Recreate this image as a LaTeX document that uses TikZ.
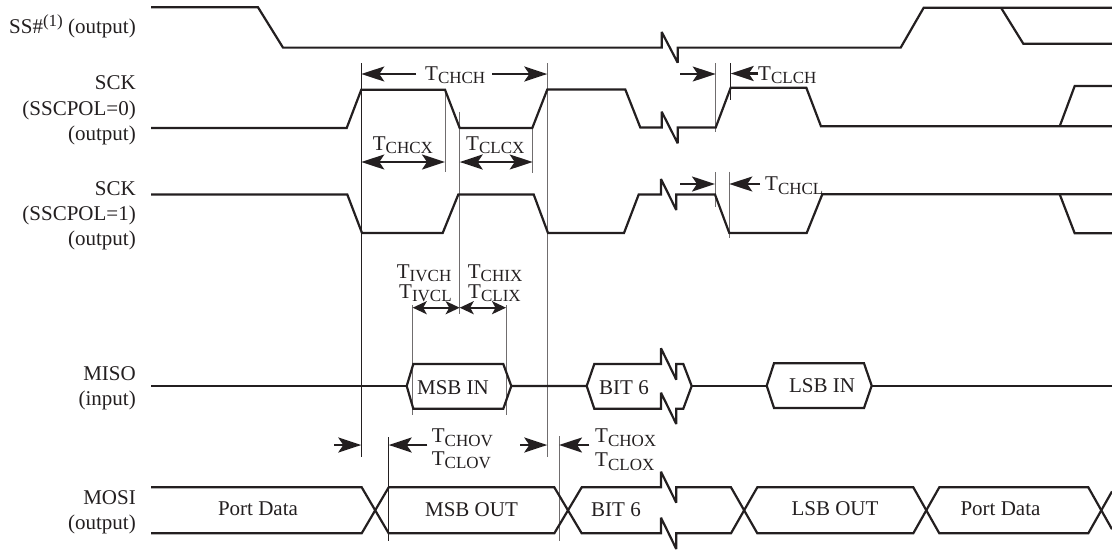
\documentclass[tikz,border=0pt]{standalone}
\usepackage{fontspec}
\setmainfont{Liberation Serif}
\usetikzlibrary{arrows.meta}
\definecolor{ink}{HTML}{231F20}
\newcommand{\Tt}[1]{T\raisebox{-3.5pt}{\fontsize{17}{17}\selectfont #1}}
\tikzset{
  sig/.style={draw=ink,line width=2.2pt,line join=miter,miter limit=3},
  guide/.style={draw=ink!65,line width=1pt},
  guidedark/.style={draw=ink,line width=0.8pt},
  big/.style={draw=ink,line width=2.2pt,-{Stealth[length=23pt,width=15pt,inset=5pt]}},
  bigboth/.style={draw=ink,line width=2.2pt,{Stealth[length=23pt,width=15pt,inset=5pt]}-{Stealth[length=23pt,width=15pt,inset=5pt]}},
  small/.style={draw=ink,line width=2.2pt,{Stealth[length=14pt,width=13pt,inset=3.5pt]}-{Stealth[length=14pt,width=13pt,inset=3.5pt]}},
  txt/.style={inner sep=0pt,text=ink,font=\fontsize{21}{21}\selectfont},
  lbl/.style={txt,anchor=base east},
  tw/.style={txt,anchor=base west},
  tc/.style={txt,anchor=base}
}
\begin{document}
\begin{tikzpicture}[x=1pt,y=-1pt]
\useasboundingbox (0,0) rectangle (1112,550);

% guide lines
\draw[guidedark] (361.3,63) -- (361.3,457.3);
\draw[guide] (547.3,63) -- (547.3,457.3);
\draw[guide] (445,90) -- (445,171.7);
\draw[guide] (459.7,111.7) -- (459.7,314);
\draw[guide] (532.3,128) -- (532.3,173.3);
\draw[guide] (715.7,63) -- (715.7,131.7);
\draw[guidedark] (730.7,63) -- (730.7,100);
\draw[guide] (715,172) -- (715,206.7);
\draw[guide] (729.3,171.7) -- (729.3,238.3);
\draw[guide] (412.7,305) -- (412.7,415);
\draw[guide] (506,305) -- (506,415);
\draw[guidedark] (388.7,437.3) -- (388.7,540.7);
\draw[guide] (559,436) -- (559,540.7);

% SS#
\draw[sig] (151,7.3) -- (258,7.3) -- (283,47.6) -- (661.7,47.6) -- (661.7,32) -- (677.7,62.7) -- (677.7,47.6) -- (900.7,47.6) -- (923.7,7.7) -- (1112,7.7);
\draw[sig] (1001,7.7) -- (1023.3,43.7) -- (1112,43.7);

% SCK polarity 0
\draw[sig] (151,128) -- (346.7,128) -- (361.3,89.7) -- (445,89.7) -- (459.7,128) -- (532.3,128) -- (547.3,89.5) -- (625.3,89.5) -- (640.3,127.5) -- (661.7,127.5) -- (661.7,111.7) -- (677.7,143.3) -- (677.7,127.5) -- (715.7,127.5) -- (730.7,87.7) -- (806.3,87.7) -- (821,126.3) -- (1112,126.3);
\draw[sig] (1059.7,126.3) -- (1074.7,86) -- (1112,86);

% SCK polarity 1
\draw[sig] (151,194.5) -- (347.3,194.5) -- (362,233) -- (442.7,233) -- (458.3,194.5) -- (533.7,194.5) -- (548,233) -- (624,233) -- (638.7,194.5) -- (661,194.5) -- (661,179) -- (676.3,210) -- (676.3,194.5) -- (715,194.5) -- (729.3,233) -- (806.7,233) -- (822.3,194.3) -- (1112,194.3);
\draw[sig] (1059.7,194.3) -- (1074.7,233.3) -- (1112,233.3);

% MISO
\draw[sig] (151,386) -- (406.7,386);
\draw[sig] (406.7,386) -- (413.3,364) -- (503.3,364) -- (511.3,386) -- (503.3,408.7) -- (413.3,408.7) -- cycle;
\draw[sig] (511.3,386) -- (586.7,386) -- (594.3,364) -- (661,364) -- (661,348.3) -- (676.3,379.7) -- (676.3,364) -- (683.3,364) -- (691.7,386) -- (683.3,408.7) -- (676.3,408.7) -- (676.3,424) -- (661,392.7) -- (661,408.7) -- (594.3,408.7) -- (586.7,386);
\draw[sig] (691.7,386) -- (766.7,386);
\draw[sig] (766.7,385.7) -- (774,363.3) -- (864,363.3) -- (871.7,385.7) -- (864,408) -- (774,408) -- cycle;
\draw[sig] (871.7,386) -- (1112,386);

% MOSI
\draw[sig] (151,487.3) -- (361.7,487.3) -- (388.7,533.3) -- (554.3,533.3) -- (581.7,487.3) -- (661,487.3) -- (661,471.7) -- (676.3,502.7) -- (676.3,487.3) -- (731,487.3) -- (757.3,533.3) -- (913.3,533.3) -- (939.3,487.3) -- (1088.3,487.3) -- (1112,529.2);
\draw[sig] (151,533.3) -- (361.7,533.3) -- (388.7,487.3) -- (554.3,487.3) -- (581.7,533.3) -- (661,533.3) -- (661,517.7) -- (676.3,549) -- (676.3,533.3) -- (731,533.3) -- (757.3,487.3) -- (913.3,487.3) -- (939.3,533.3) -- (1088.3,533.3) -- (1112,491.4);

% timing arrows
\draw[big] (416,74) -- (361.3,74);
\draw[big] (492.3,74) -- (547.3,74);
\draw[bigboth] (361.3,162) -- (445,162);
\draw[bigboth] (459.7,162) -- (532.7,162);
\draw[big] (680,74) -- (715.7,74);
\draw[big] (758.3,73.5) -- (730.7,73.5);
\draw[big] (680,184) -- (715,184);
\draw[big] (760,184) -- (729.3,184);
\draw[small] (412.7,307.7) -- (459.7,307.7);
\draw[small] (459.7,307.7) -- (506,307.7);
\draw[big] (334.3,445) -- (361.3,445);
\draw[big] (427.3,445) -- (388.7,445);
\draw[big] (520,445) -- (547.3,445);
\draw[big] (589.3,445) -- (559,445);

% timing labels
\node[tw] (tchch) at (425,80) {\Tt{CHCH}};
\node[tw] (tchcx) at (372.7,150) {\Tt{CHCX}};
\node[tw] (tclcx) at (466,150) {\Tt{CLCX}};
\node[tw] (tclch) at (758,80) {\Tt{CLCH}};
\node[tw] (tchcl) at (765,190.7) {\Tt{CHCL}};
\node[tw] (tivch) at (396.7,278) {\Tt{IVCH}};
\node[tw] (tivcl) at (399,298.3) {\Tt{IVCL}};
\node[tw] (tchix) at (467.7,278) {\Tt{CHIX}};
\node[tw] (tclix) at (468,298.3) {\Tt{CLIX}};
\node[tw] (tchov) at (431.7,442.7) {\Tt{CHOV}};
\node[tw] (tclov) at (431.7,465) {\Tt{CLOV}};
\node[tw] (tchox) at (595,442.7) {\Tt{CHOX}};
\node[tw] (tclox) at (595,466.7) {\Tt{CLOX}};

% data labels
\node[tc] (msbin) at (453,394.3) {MSB IN};
\node[tc] (bit6i) at (624,394.3) {BIT 6};
\node[tc] (lsbin) at (822,392.3) {LSB IN};
\node[tc] (pd1) at (258,515) {Port Data};
\node[tc] (msbout) at (471.5,516.7) {MSB OUT};
\node[tc] (bit6o) at (616,516.7) {BIT 6};
\node[tc] (lsbout) at (835,515) {LSB OUT};
\node[tc] (pd2) at (1000.5,515) {Port Data};

% signal names
\node[lbl] (l1) at (136,33) {SS\#\raisebox{7pt}{\fontsize{17}{17}\selectfont (1)} (output)};
\node[lbl] (l2) at (136,89) {SCK};
\node[lbl] (l3) at (136,115.7) {(SSCPOL=0)};
\node[lbl] (l4) at (136,140) {(output)};
\node[lbl] (l5) at (136,195) {SCK};
\node[lbl] (l6) at (136,220) {(SSCPOL=1)};
\node[lbl] (l7) at (136,245.3) {(output)};
\node[lbl] (l8) at (136,380.7) {MISO};
\node[lbl] (l9) at (136,405) {(input)};
\node[lbl] (l10) at (136,504.3) {MOSI};
\node[lbl] (l11) at (136,529) {(output)};
\end{tikzpicture}
\end{document}
